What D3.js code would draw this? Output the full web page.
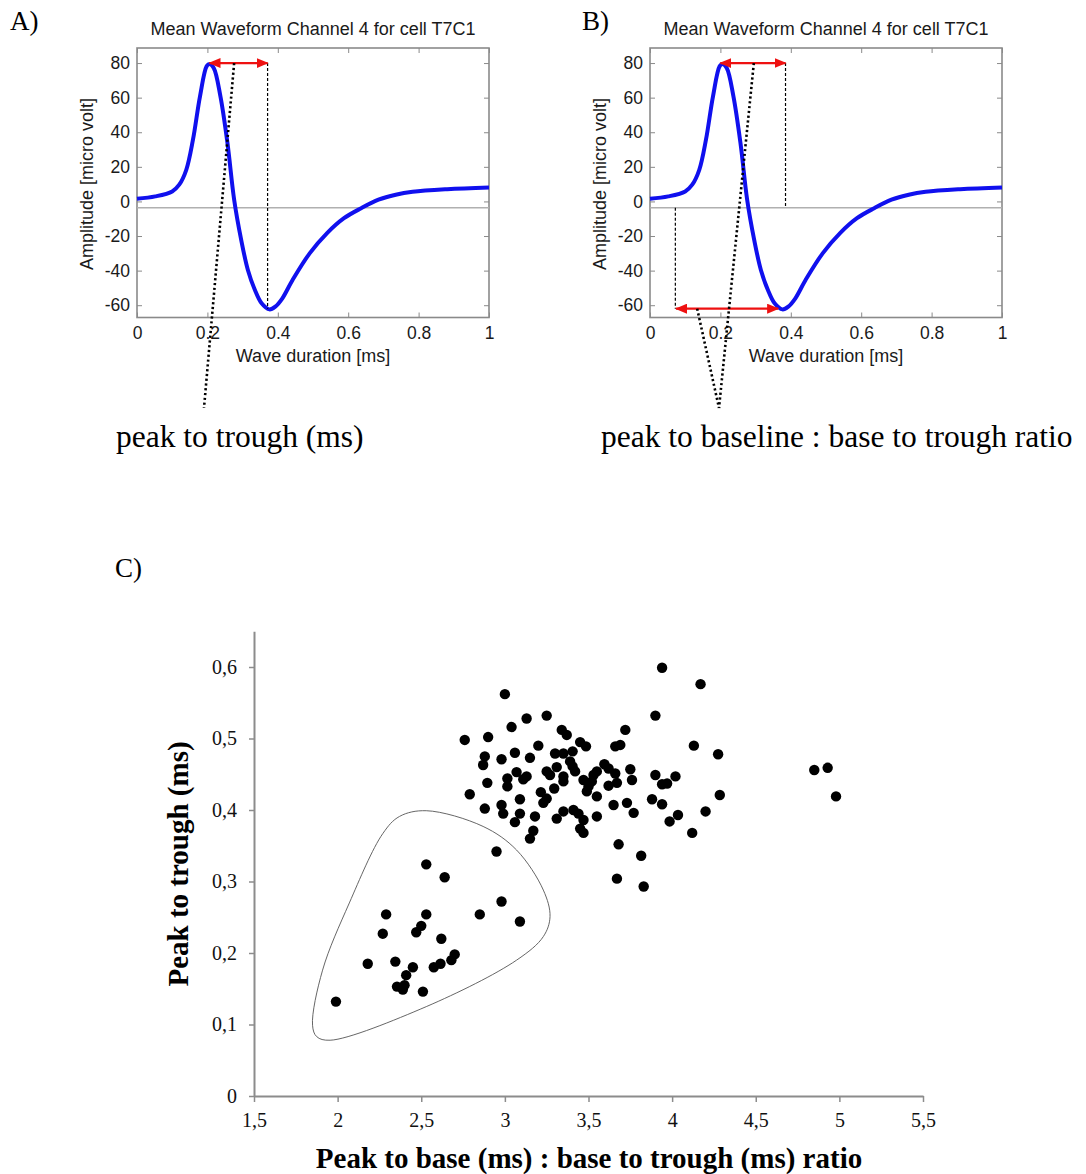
<!DOCTYPE html>
<html lang="en">
<head>
  <meta charset="UTF-8">
  <title>Waveform measures and scatter</title>
  <script src="https://d3js.org/d3.v7.min.js"></script>
  <style>
    body { margin: 0; background: #fff; }
    svg { display: block; }
  </style>
</head>
<body>
  <script>
    // mean waveform (time in ms, amplitude in micro volt)
    const waveTime = [0, 0.052, 0.1, 0.12, 0.14, 0.159, 0.179, 0.198, 0.206, 0.218, 0.237, 0.257, 0.276, 0.296,
                      0.315, 0.335, 0.354, 0.376, 0.393, 0.413, 0.442, 0.491, 0.54, 0.588, 0.637, 0.686, 0.735, 0.783, 0.881, 1.0];
    const waveAmp  = [1.5, 2.9, 5.8, 9.7, 18.3, 35.7, 60.8, 78.2, 79.5, 77.2, 60.8, 33.8, 1.0, -22.2,
                      -39.6, -51.2, -58.9, -62.4, -60.8, -56.0, -45.4, -29.9, -18.3, -9.7, -3.9, 1.0, 3.9, 5.6, 7.1, 8.1];
    const baseline = -3.7;
    const ampTicks = [-60, -40, -20, 0, 20, 40, 60, 80];
    const timeTicks = [0, 0.2, 0.4, 0.6, 0.8, 1];
    const waveTitle = "Mean Waveform Channel 4 for cell T7C1";

    // scatter, lower group (inside the outline)
    const lowX = [1.99, 2.18, 2.29, 2.27, 2.345, 2.355, 2.39, 2.40, 2.41, 2.45, 2.47, 2.50, 2.51, 2.53, 2.53,
                  2.575, 2.615, 2.62, 2.64, 2.68, 2.70, 2.85, 2.95, 2.98, 3.09];
    const lowY = [0.132, 0.185, 0.254, 0.227, 0.188, 0.153, 0.149, 0.155, 0.169, 0.18, 0.229, 0.238, 0.146, 0.324, 0.254,
                  0.18, 0.185, 0.22, 0.306, 0.19, 0.198, 0.254, 0.342, 0.272, 0.244];
    // scatter, upper group
    const highX = [3.00, 3.13, 3.25, 3.04, 2.76, 2.90, 3.34, 3.37, 3.45, 3.485, 2.88, 2.87, 2.98, 3.06, 3.15, 3.20,
                   3.30, 3.35, 3.405, 3.39, 3.405, 3.42, 3.31, 3.25, 3.27, 3.35, 3.35, 3.295, 3.215, 3.25, 3.23,
                   3.07, 3.13, 3.11, 3.015, 3.015, 2.895, 2.79, 2.88, 2.98, 2.99, 3.09, 3.06, 3.09, 3.18, 3.17,
                   3.15, 3.31, 3.35, 3.41, 3.44, 3.47, 3.45, 3.47, 3.47, 3.50, 3.49, 3.53, 3.55, 3.55, 3.55, 3.52,
                   3.94, 4.17, 3.90, 3.72, 3.66, 3.69, 4.13, 4.275, 4.85, 4.93, 4.98, 3.595, 3.62, 3.66, 3.67,
                   3.62, 3.75, 3.76, 3.90, 3.94, 3.97, 4.02, 4.285, 3.88, 3.94, 3.65, 3.73, 3.77, 4.20, 4.035,
                   3.985, 4.12, 3.68, 3.815, 3.67, 3.83];
    const highY = [0.562, 0.528, 0.532, 0.516, 0.498, 0.502, 0.512, 0.505, 0.495, 0.489, 0.475, 0.463, 0.471, 0.48, 0.473, 0.49,
                   0.479, 0.479, 0.482, 0.468, 0.461, 0.454, 0.46, 0.454, 0.449, 0.447, 0.44, 0.43, 0.425, 0.416, 0.41,
                   0.453, 0.447, 0.443, 0.444, 0.433, 0.438, 0.422, 0.402, 0.407, 0.395, 0.395, 0.383, 0.415, 0.391, 0.371,
                   0.36, 0.388, 0.398, 0.40, 0.395, 0.386, 0.374, 0.368, 0.442, 0.433, 0.426, 0.449, 0.454, 0.419, 0.391, 0.44,
                   0.599, 0.576, 0.532, 0.512, 0.489, 0.491, 0.49, 0.478, 0.456, 0.459, 0.419, 0.464, 0.458, 0.451, 0.438,
                   0.434, 0.457, 0.442, 0.449, 0.436, 0.437, 0.447, 0.421, 0.415, 0.408, 0.407, 0.41, 0.396, 0.398, 0.393,
                   0.384, 0.368, 0.352, 0.336, 0.304, 0.293];
    // hand drawn outline around the lower group (data units)
    const outlineX = [2.53, 2.87, 3.07, 3.23, 3.27, 3.23, 3.07, 2.53, 1.955, 1.875, 1.85, 1.91, 2.07, 2.27, 2.37];
    const outlineY = [0.399, 0.377, 0.344, 0.288, 0.251, 0.223, 0.19, 0.125, 0.078, 0.083, 0.099, 0.176, 0.27, 0.367, 0.391];
    const ratioTicks = [1.5, 2, 2.5, 3, 3.5, 4, 4.5, 5, 5.5];
    const troughTicks = [0, 0.1, 0.2, 0.3, 0.4, 0.5, 0.6];

    const W = 1086, H = 1174;
    const sans = "'Liberation Sans', Arial, sans-serif";
    const serif = "'Liberation Serif', 'Times New Roman', serif";

    const svg = d3.select("body").append("svg")
      .attr("width", W).attr("height", H)
      .attr("viewBox", `0 0 ${W} ${H}`);

    const defs = svg.append("defs");
    defs.append("marker")
      .attr("id", "redhead")
      .attr("viewBox", "0 0 12 10")
      .attr("refX", 11).attr("refY", 5)
      .attr("markerWidth", 12).attr("markerHeight", 10)
      .attr("markerUnits", "userSpaceOnUse")
      .attr("orient", "auto-start-reverse")
      .append("path").attr("d", "M0,0 L12,5 L0,10 Z").attr("fill", "#ee1111");

    const wave = waveTime.map((t, i) => ({t: t, a: waveAmp[i]}));

    function wavePanel(ox, letterX) {
      const x = d3.scaleLinear().domain([0, 1]).range([ox, ox + 352]);
      const y = d3.scaleLinear().domain([-67.1, 88.7]).range([317.5, 48]);
      const g = svg.append("g");

      // MATLAB-like ticks on all four sides, pointing inwards
      const tickStyle = sel => {
        sel.selectAll(".domain").remove();
        sel.selectAll(".tick line").attr("stroke", "#8a8a8a").attr("stroke-width", 1);
        sel.selectAll(".tick text").attr("fill", "#1a1a1a").attr("font-family", sans).attr("font-size", 17.5);
      };
      g.append("g").attr("transform", `translate(${ox},0)`)
        .call(d3.axisLeft(y).tickValues(ampTicks).tickSize(-5).tickPadding(7).tickFormat(d => String(d)))
        .call(tickStyle);
      g.append("g").attr("transform", `translate(${ox + 352},0)`)
        .call(d3.axisRight(y).tickValues(ampTicks).tickSize(-5).tickFormat(""))
        .call(tickStyle);
      g.append("g").attr("transform", `translate(0,${y.range()[0]})`)
        .call(d3.axisBottom(x).tickValues(timeTicks).tickSize(-5).tickPadding(9).tickFormat(d => String(d)))
        .call(tickStyle);
      g.append("g").attr("transform", `translate(0,${y.range()[1]})`)
        .call(d3.axisTop(x).tickValues(timeTicks).tickSize(-5).tickFormat(""))
        .call(tickStyle);

      g.append("rect")
        .attr("x", ox).attr("y", 48).attr("width", 352).attr("height", 317.5 - 48)
        .attr("fill", "none").attr("stroke", "#8a8a8a").attr("stroke-width", 1.6);

      g.append("line")
        .attr("x1", x(0)).attr("x2", x(1)).attr("y1", y(baseline)).attr("y2", y(baseline))
        .attr("stroke", "#b0b0b0").attr("stroke-width", 1.5);

      g.append("path")
        .datum(wave)
        .attr("d", d3.line().x(d => x(d.t)).y(d => y(d.a)).curve(d3.curveCatmullRom))
        .attr("fill", "none").attr("stroke", "#1010ee").attr("stroke-width", 4)
        .attr("stroke-linejoin", "round");

      g.append("text").attr("x", ox + 176).attr("y", 35).attr("text-anchor", "middle")
        .attr("font-family", sans).attr("font-size", 18).attr("fill", "#1a1a1a").text(waveTitle);
      g.append("text").attr("transform", `translate(${ox - 44},${184}) rotate(-90)`)
        .attr("text-anchor", "middle").attr("font-family", sans).attr("font-size", 18).attr("fill", "#1a1a1a")
        .text("Amplitude [micro volt]");
      g.append("text").attr("x", ox + 176).attr("y", 362).attr("text-anchor", "middle")
        .attr("font-family", sans).attr("font-size", 18).attr("fill", "#1a1a1a").text("Wave duration [ms]");

      svg.append("text").attr("x", letterX).attr("y", 30)
        .attr("font-family", serif).attr("font-size", 27).attr("fill", "#000")
        .text(ox < 500 ? "A)" : "B)");
      return {g: g, x: x, y: y};
    }

    function redArrow(g, x1, x2, yy) {
      g.append("line").attr("x1", x1).attr("x2", x2).attr("y1", yy).attr("y2", yy)
        .attr("stroke", "#ee1111").attr("stroke-width", 2.2)
        .attr("marker-start", "url(#redhead)").attr("marker-end", "url(#redhead)");
    }
    function dashed(g, xx, y1, y2) {
      g.append("line").attr("x1", xx).attr("x2", xx).attr("y1", y1).attr("y2", y2)
        .attr("stroke", "#000").attr("stroke-width", 1.2).attr("stroke-dasharray", "3,2");
    }
    function dotted(g, x1, y1, x2, y2) {
      g.append("line").attr("x1", x1).attr("y1", y1).attr("x2", x2).attr("y2", y2)
        .attr("stroke", "#000").attr("stroke-width", 2.6).attr("stroke-dasharray", "2.2,2.6");
    }

    // panel A
    const A = wavePanel(137, 10);
    dashed(A.g, A.x(0.371), A.y(80), A.y(-62));
    redArrow(A.g, A.x(0.206), A.x(0.371), A.y(80));
    dotted(A.g, A.x(0.276), A.y(80), 204, 408);

    // panel B
    const B = wavePanel(650, 582);
    dashed(B.g, B.x(0.385), B.y(80), B.y(baseline));
    dashed(B.g, B.x(0.072), B.y(baseline), B.y(-62));
    redArrow(B.g, B.x(0.2), B.x(0.385), B.y(80));
    redArrow(B.g, B.x(0.074), B.x(0.364), B.y(-62));
    dotted(B.g, B.x(0.295), B.y(80), 719, 408);
    dotted(B.g, B.x(0.134), B.y(-62), 719, 408);

    svg.append("text").attr("x", 116).attr("y", 447)
      .attr("font-family", serif).attr("font-size", 31.5).attr("fill", "#000").text("peak to trough (ms)");
    svg.append("text").attr("x", 601).attr("y", 447)
      .attr("font-family", serif).attr("font-size", 31.5).attr("fill", "#000").text("peak to baseline : base to trough ratio");

    // panel C
    svg.append("text").attr("x", 115).attr("y", 577)
      .attr("font-family", serif).attr("font-size", 27).attr("fill", "#000").text("C)");

    const sx = d3.scaleLinear().domain([1.5, 5.5]).range([254, 923]);
    const sy = d3.scaleLinear().domain([0, 0.65]).range([1096, 1096 - 0.65 * 715]);
    const comma = d => d === 0 ? "0" : d3.format("~g")(d).replace(".", ",");
    const cAxis = sel => {
      sel.select(".domain").attr("stroke", "#8c8c8c").attr("stroke-width", 2);
      sel.selectAll(".tick line").attr("stroke", "#8c8c8c").attr("stroke-width", 1.5);
      sel.selectAll(".tick text").attr("fill", "#111").attr("font-family", serif).attr("font-size", 20);
    };
    const C = svg.append("g");
    C.append("g").attr("transform", `translate(${sx(1.5)},0)`)
      .call(d3.axisLeft(sy).tickValues(troughTicks).tickSize(5).tickSizeOuter(0).tickPadding(12).tickFormat(comma))
      .call(cAxis);
    C.append("g").attr("transform", `translate(0,${sy(0)})`)
      .call(d3.axisBottom(sx).tickValues(ratioTicks).tickSize(6).tickSizeOuter(0).tickPadding(11).tickFormat(comma))
      .call(cAxis);

    const outline = outlineX.map((v, i) => [sx(v), sy(outlineY[i])]);
    C.append("path")
      .attr("d", d3.line().curve(d3.curveCatmullRomClosed.alpha(0.5))(outline))
      .attr("fill", "none").attr("stroke", "#555").attr("stroke-width", 0.9);

    const pts = lowX.map((v, i) => ({x: v, y: lowY[i]}))
      .concat(highX.map((v, i) => ({x: v, y: highY[i]})));
    C.selectAll("circle")
      .data(pts)
      .enter()
      .append("circle")
      .attr("cx", d => sx(d.x))
      .attr("cy", d => sy(d.y))
      .attr("r", 5.2)
      .attr("fill", "#000");

    C.append("text").attr("transform", `translate(188,${864}) rotate(-90)`)
      .attr("text-anchor", "middle").attr("font-family", serif).attr("font-weight", "bold")
      .attr("font-size", 29).attr("fill", "#000").text("Peak to trough (ms)");
    C.append("text").attr("x", 589).attr("y", 1168).attr("text-anchor", "middle")
      .attr("font-family", serif).attr("font-weight", "bold")
      .attr("font-size", 29).attr("fill", "#000").text("Peak to base (ms) : base to trough (ms) ratio");
  </script>
</body>
</html>
